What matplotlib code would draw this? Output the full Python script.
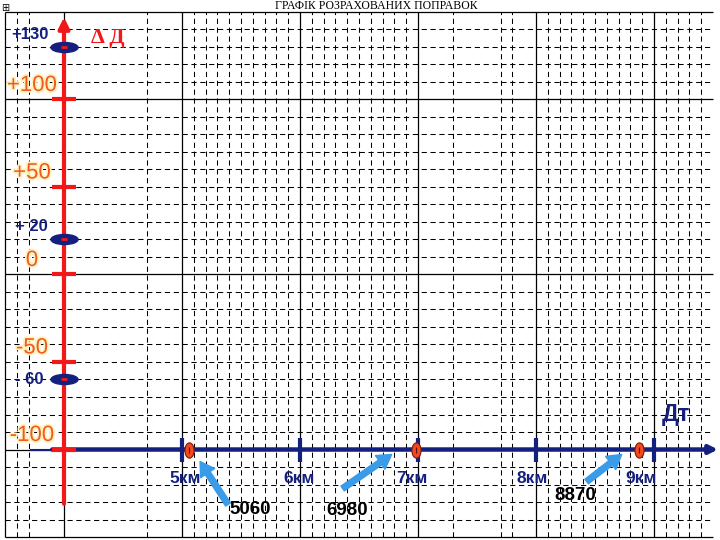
import numpy as np
import matplotlib
matplotlib.use('Agg')
import matplotlib.pyplot as plt
import matplotlib.patheffects as pe
from matplotlib.path import Path
from matplotlib.transforms import Affine2D, offset_copy

#  chart data
title = 'ГРАФІК РОЗРАХОВАНИХ ПОПРАВОК'
scale_vals = [100, 50, 0, -50, -100]
scale_labels = ['+100', '+50', '0', '-50', '-100']
corr_vals = [130, 20, -60]
corr_labels = ['+130', '+ 20', '- 60']
km_ticks = [5, 6, 7, 8, 9]
km_labels = ['5км', '6км', '7км', '8км', '9км']
range_m = [5060, 6980, 8870]
range_labels = ['5060', '6980', '8870']

#  sheet grid (km columns, correction rows)
grid_solid_x = [3.5, 4, 5, 6, 7, 8, 9]
grid_dash_x = [3.6, 3.7, 4.7, 7.3, 7.7, 7.8] + \
    [k + i/10 for k in (5, 6, 8) for i in range(1, 10)] + [9.1, 9.2, 9.3, 9.4]
grid_rows = np.arange(-150, 151, 10)
grid_solid_y = [-150, -100, 0, 100, 150]

NAVY = '#14207e'
RED = '#f01818'
ORANGE = '#f05a28'
LBLUE = '#3a9be8'

#  layout: pixels per km / per unit, origin of the axes
PXK, PXU = 118.0, 1.75
x0, y0 = 4.0, -100

fig = plt.figure(figsize=(7.2, 5.4), dpi=100)
ax = fig.add_axes([0, 0, 1, 1])
ax.set_xlim(5 - 182/PXK, 5 + 538/PXK)
ax.set_ylim((274.5 - 540)/PXU, 274.5/PXU)
ax.axis('off')

def off(dx, dy):
    return offset_copy(ax.transData, fig=fig, x=dx, y=dy, units='dots')

#  grid
dash = (0, (5, 3.5))
for v in grid_rows:
    solid = v in grid_solid_y
    ax.hlines(v, 3.5, 9.5, colors='k', lw=0.9 if solid else 0.75,
              linestyles='solid' if solid else dash, zorder=1)
ax.vlines(grid_solid_x, -150, 150, colors='k', lw=0.9, zorder=1)
ax.vlines(grid_dash_x, -150, 150, colors='k', lw=0.75, linestyles=dash, zorder=1)

fig.text(0.522, 1 - 9/540, title, ha='center', va='baseline',
         family='Liberation Serif', fontsize=8.5)
fig.text(0.002, 1 - 11/540, '\u229e', ha='left', va='baseline', fontsize=7)

#  blue distance axis
ax.plot([3.72, 3.92], [y0, y0], color=NAVY, lw=1.5, zorder=3)
ax.annotate('', xy=(5 + 536/PXK, y0), xytext=(3.9, y0),
            arrowprops=dict(arrowstyle='-|>', color=NAVY, lw=3.2,
                            mutation_scale=12, shrinkA=0, shrinkB=0), zorder=3)
ax.plot(km_ticks, [y0]*len(km_ticks), ls='none', marker='|', ms=17,
        mew=3, color=NAVY, zorder=4)
km_dx = [3, -1, -6, -4, -13]
for k, lab, dx in zip(km_ticks, km_labels, km_dx):
    ax.text(k, y0, lab, transform=off(dx, -29), ha='center', va='center',
            fontsize=12.5, fontweight='bold', family='Liberation Sans',
            color=NAVY, zorder=5)
ax.text(9.19, -80, 'Дт', ha='center', va='center', fontsize=17,
        fontweight='bold', family='Liberation Sans', color=NAVY, zorder=5)

#  red correction axis
ax.annotate('', xy=(x0, 147), xytext=(x0, -131),
            arrowprops=dict(arrowstyle='-|>', color=RED, lw=3.0,
                            mutation_scale=16, shrinkA=0, shrinkB=0), zorder=4)
ax.plot([x0]*len(scale_vals), scale_vals, ls='none', marker='_', ms=17,
        mew=3, color=RED, zorder=5)
for v, lab in zip(scale_vals, scale_labels):
    ax.text(x0, v, lab, transform=off(-32, 14), ha='center', va='center',
            fontsize=16, family='Liberation Sans', color=ORANGE, zorder=6,
            path_effects=[pe.withStroke(linewidth=2.5, foreground='#fff2b8')])
ax.text(4.37, 135, 'Δ Д', ha='center', va='center', fontsize=16,
        fontweight='bold', family='Liberation Serif', color=RED, zorder=6)

#  computed corrections on the red axis
circ = Path.unit_circle()
horiz_ell = circ.transformed(Affine2D().scale(1.0, 0.37))
vert_ell = circ.transformed(Affine2D().scale(0.6, 1.0))
ax.plot([x0]*len(corr_vals), corr_vals, ls='none', marker=horiz_ell, ms=19.5,
        color=NAVY, mec=NAVY, zorder=6)
ax.plot([x0]*len(corr_vals), corr_vals, ls='none', marker='_', ms=5,
        mew=2, color=RED, zorder=7)
corr_off = [(-34, 12), (-33, 13), (-35, 0)]
for v, lab, (dx, dy) in zip(corr_vals, corr_labels, corr_off):
    ax.text(x0, v, lab, transform=off(dx, dy), ha='center', va='center',
            fontsize=12, fontweight='bold', family='Liberation Sans',
            color=NAVY, zorder=6)

#  target ranges on the blue axis
rkm = [r/1000 for r in range_m]
ax.plot(rkm, [y0]*len(rkm), ls='none', marker=vert_ell, ms=11,
        color='#f04a1e', mec='#7a1a0a', mew=0.8, zorder=6)
ax.plot(rkm, [y0]*len(rkm), ls='none', marker='|', ms=5, mew=0.8,
        color='#5a1008', zorder=7)
tips = [(11, -12), (-24, -5), (-17, -5)]
tails = [(39, -55), (-73, -39), (-52, -32)]
txts = [(61, -60), (-68, -61), (-63, -46)]
for k, lab, tp, tl, tx in zip(rkm, range_labels, tips, tails, txts):
    ax.annotate('', xy=(k, y0), xycoords=off(*tp),
                xytext=(k, y0), textcoords=off(*tl),
                arrowprops=dict(arrowstyle='simple,head_length=1.0,head_width=1.2,tail_width=0.42',
                                color=LBLUE, mutation_scale=10,
                                shrinkA=0, shrinkB=0), zorder=6)
    ax.text(k, y0, lab, transform=off(*tx), ha='center', va='center',
            fontsize=13.5, fontweight='bold', family='Liberation Sans',
            color='k', zorder=6)

plt.savefig('out.png', dpi=100)
